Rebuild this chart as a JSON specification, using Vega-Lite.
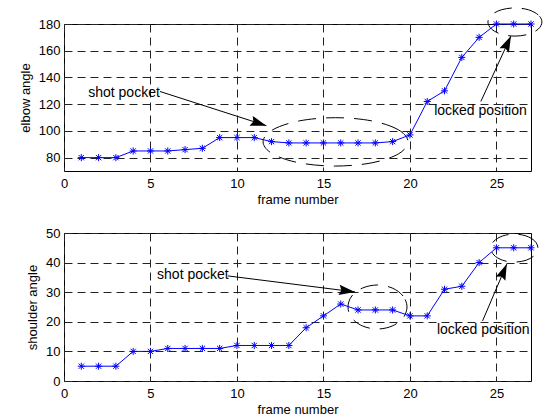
{
  "$schema": "https://vega.github.io/schema/vega-lite/v6.json",
  "background": "white",
  "padding": {"left": 18, "top": 5, "right": 2, "bottom": 0},
  "config": {
    "font": "Liberation Sans",
    "view": {"stroke": "#000", "strokeWidth": 1},
    "axis": {
      "labelFont": "Liberation Sans", "labelFontSize": 13, "labelColor": "#000",
      "titleFont": "Liberation Sans", "titleFontSize": 13, "titleFontWeight": "normal", "titleColor": "#000",
      "ticks": false, "domain": false, "labelOverlap": false,
      "grid": true, "gridColor": "#222", "gridDash": [8, 5], "gridWidth": 1
    },
    "axisX": {"labelPadding": 6, "titlePadding": 3, "labelFlush": false, "tickCount": 6},
    "axisY": {"labelPadding": 4, "titlePadding": 6, "tickCount": 6}
  },
  "datasets": {
    "elbow": [
      {"frame": 1, "angle": 80}, {"frame": 2, "angle": 80}, {"frame": 3, "angle": 80},
      {"frame": 4, "angle": 85}, {"frame": 5, "angle": 85}, {"frame": 6, "angle": 85},
      {"frame": 7, "angle": 86}, {"frame": 8, "angle": 87}, {"frame": 9, "angle": 95},
      {"frame": 10, "angle": 95}, {"frame": 11, "angle": 95}, {"frame": 12, "angle": 92},
      {"frame": 13, "angle": 91}, {"frame": 14, "angle": 91}, {"frame": 15, "angle": 91},
      {"frame": 16, "angle": 91}, {"frame": 17, "angle": 91}, {"frame": 18, "angle": 91},
      {"frame": 19, "angle": 92}, {"frame": 20, "angle": 97}, {"frame": 21, "angle": 122},
      {"frame": 22, "angle": 130}, {"frame": 23, "angle": 155}, {"frame": 24, "angle": 170},
      {"frame": 25, "angle": 180}, {"frame": 26, "angle": 180}, {"frame": 27, "angle": 180}
    ],
    "shoulder": [
      {"frame": 1, "angle": 5}, {"frame": 2, "angle": 5}, {"frame": 3, "angle": 5},
      {"frame": 4, "angle": 10}, {"frame": 5, "angle": 10}, {"frame": 6, "angle": 11},
      {"frame": 7, "angle": 11}, {"frame": 8, "angle": 11}, {"frame": 9, "angle": 11},
      {"frame": 10, "angle": 12}, {"frame": 11, "angle": 12}, {"frame": 12, "angle": 12},
      {"frame": 13, "angle": 12}, {"frame": 14, "angle": 18}, {"frame": 15, "angle": 22},
      {"frame": 16, "angle": 26}, {"frame": 17, "angle": 24}, {"frame": 18, "angle": 24},
      {"frame": 19, "angle": 24}, {"frame": 20, "angle": 22}, {"frame": 21, "angle": 22},
      {"frame": 22, "angle": 31}, {"frame": 23, "angle": 32}, {"frame": 24, "angle": 40},
      {"frame": 25, "angle": 45}, {"frame": 26, "angle": 45}, {"frame": 27, "angle": 45}
    ],
    "ellTop": [
      {"e": "pocket", "i": 0, "x": 19.89, "y": 91.8}, {"e": "pocket", "i": 1, "x": 19.33, "y": 100.85},
      {"e": "pocket", "i": 2, "x": 17.80, "y": 107.48}, {"e": "pocket", "i": 3, "x": 15.7, "y": 109.9},
      {"e": "pocket", "i": 4, "x": 13.60, "y": 107.48}, {"e": "pocket", "i": 5, "x": 12.07, "y": 100.85},
      {"e": "pocket", "i": 6, "x": 11.51, "y": 91.8}, {"e": "pocket", "i": 7, "x": 12.07, "y": 82.75},
      {"e": "pocket", "i": 8, "x": 13.60, "y": 76.12}, {"e": "pocket", "i": 9, "x": 15.7, "y": 73.7},
      {"e": "pocket", "i": 10, "x": 17.80, "y": 76.12}, {"e": "pocket", "i": 11, "x": 19.33, "y": 82.75},
      {"e": "locked", "i": 0, "x": 27.63, "y": 181.5}, {"e": "locked", "i": 1, "x": 27.42, "y": 186.78},
      {"e": "locked", "i": 2, "x": 26.85, "y": 190.64}, {"e": "locked", "i": 3, "x": 26.07, "y": 192.05},
      {"e": "locked", "i": 4, "x": 25.29, "y": 190.64}, {"e": "locked", "i": 5, "x": 24.72, "y": 186.78},
      {"e": "locked", "i": 6, "x": 24.51, "y": 181.5}, {"e": "locked", "i": 7, "x": 24.72, "y": 176.22},
      {"e": "locked", "i": 8, "x": 25.29, "y": 172.36}, {"e": "locked", "i": 9, "x": 26.07, "y": 170.95},
      {"e": "locked", "i": 10, "x": 26.85, "y": 172.36}, {"e": "locked", "i": 11, "x": 27.42, "y": 176.22}
    ],
    "ellBot": [
      {"e": "pocket", "i": 0, "x": 19.83, "y": 25.0}, {"e": "pocket", "i": 1, "x": 19.60, "y": 28.72},
      {"e": "pocket", "i": 2, "x": 18.97, "y": 31.43}, {"e": "pocket", "i": 3, "x": 18.12, "y": 32.43},
      {"e": "pocket", "i": 4, "x": 17.27, "y": 31.43}, {"e": "pocket", "i": 5, "x": 16.64, "y": 28.72},
      {"e": "pocket", "i": 6, "x": 16.42, "y": 25.0}, {"e": "pocket", "i": 7, "x": 16.64, "y": 21.28},
      {"e": "pocket", "i": 8, "x": 17.27, "y": 18.57}, {"e": "pocket", "i": 9, "x": 18.12, "y": 17.57},
      {"e": "pocket", "i": 10, "x": 18.97, "y": 18.57}, {"e": "pocket", "i": 11, "x": 19.60, "y": 21.28},
      {"e": "locked", "i": 0, "x": 27.40, "y": 44.9}, {"e": "locked", "i": 1, "x": 27.22, "y": 47.27},
      {"e": "locked", "i": 2, "x": 26.72, "y": 49.0}, {"e": "locked", "i": 3, "x": 26.04, "y": 49.63},
      {"e": "locked", "i": 4, "x": 25.36, "y": 49.0}, {"e": "locked", "i": 5, "x": 24.86, "y": 47.27},
      {"e": "locked", "i": 6, "x": 24.68, "y": 44.9}, {"e": "locked", "i": 7, "x": 24.86, "y": 42.54},
      {"e": "locked", "i": 8, "x": 25.36, "y": 40.8}, {"e": "locked", "i": 9, "x": 26.04, "y": 40.17},
      {"e": "locked", "i": 10, "x": 26.72, "y": 40.8}, {"e": "locked", "i": 11, "x": 27.22, "y": 42.54}
    ],
    "arrTop": [
      {"a": "pocket", "x": 5.55, "y": 129.5, "x2": 11.7, "y2": 103.9},
      {"a": "locked", "x": 24.1, "y": 122, "x2": 25.84, "y2": 171}
    ],
    "arrBot": [
      {"a": "pocket", "x": 9.48, "y": 35.5, "x2": 16.82, "y2": 30.1},
      {"a": "locked", "x": 24.2, "y": 20.3, "x2": 25.6, "y2": 39.5}
    ],
    "txtTop": [
      {"label": "shot pocket", "x": 1.4, "y": 128},
      {"label": "locked position", "x": 21.4, "y": 115.2}
    ],
    "txtBot": [
      {"label": "shot pocket", "x": 5.38, "y": 35.7},
      {"label": "locked position", "x": 21.56, "y": 17.2}
    ],
    "boxTop": [
      {"x": 21.3, "x2": 26.75, "y": 110, "y2": 119.4}
    ]
  },
  "vconcat": [
    {
      "width": 467,
      "height": 147,
      "encoding": {
        "x": {"type": "quantitative", "scale": {"domain": [0, 27]}, "axis": {"title": "frame number", "values": [0, 5, 10, 15, 20, 25]}},
        "y": {"type": "quantitative", "scale": {"domain": [70, 180]}, "axis": {"title": "elbow angle", "values": [80, 100, 120, 140, 160, 180]}}
      },
      "layer": [
        {
          "data": {"name": "boxTop"},
          "mark": {"type": "rect", "color": "white"},
          "encoding": {
            "x": {"field": "x", "type": "quantitative", "title": "frame number"},
            "x2": {"field": "x2"},
            "y": {"field": "y", "type": "quantitative", "title": "elbow angle"},
            "y2": {"field": "y2"}
          }
        },
        {
          "data": {"name": "ellTop"},
          "mark": {"type": "line", "interpolate": "cardinal-closed", "color": "#000", "strokeWidth": 1, "strokeDash": [18, 10], "clip": false},
          "encoding": {
            "x": {"field": "x", "type": "quantitative", "title": "frame number"},
            "y": {"field": "y", "type": "quantitative", "title": "elbow angle"},
            "detail": {"field": "e"},
            "order": {"field": "i", "type": "quantitative"}
          }
        },
        {
          "data": {"name": "arrTop"},
          "mark": {"type": "rule", "color": "#000", "strokeWidth": 1},
          "encoding": {
            "x": {"field": "x", "type": "quantitative", "title": "frame number"},
            "y": {"field": "y", "type": "quantitative", "title": "elbow angle"},
            "x2": {"field": "x2"},
            "y2": {"field": "y2"}
          }
        },
        {
          "data": {"name": "arrTop"},
          "transform": [{"filter": "datum.a === 'pocket'"}],
          "mark": {"type": "point", "shape": "M0,0L-2,-0.65L-1.7,0L-2,0.65Z", "size": 256, "filled": true, "color": "#000", "opacity": 1, "angle": 17.6},
          "encoding": {
            "x": {"field": "x2", "type": "quantitative", "title": "frame number"},
            "y": {"field": "y2", "type": "quantitative", "title": "elbow angle"}
          }
        },
        {
          "data": {"name": "arrTop"},
          "transform": [{"filter": "datum.a === 'locked'"}],
          "mark": {"type": "point", "shape": "M0,0L-2,-0.65L-1.7,0L-2,0.65Z", "size": 256, "filled": true, "color": "#000", "opacity": 1, "angle": 294.8},
          "encoding": {
            "x": {"field": "x2", "type": "quantitative", "title": "frame number"},
            "y": {"field": "y2", "type": "quantitative", "title": "elbow angle"}
          }
        },
        {
          "data": {"name": "txtTop"},
          "mark": {"type": "text", "align": "left", "baseline": "middle", "fontSize": 14, "color": "#000"},
          "encoding": {
            "x": {"field": "x", "type": "quantitative", "title": "frame number"},
            "y": {"field": "y", "type": "quantitative", "title": "elbow angle"},
            "text": {"field": "label"}
          }
        },
        {
          "data": {"name": "elbow"},
          "mark": {"type": "line", "color": "#0000ff", "strokeWidth": 1},
          "encoding": {
            "x": {"field": "frame", "type": "quantitative", "title": "frame number"},
            "y": {"field": "angle", "type": "quantitative", "title": "elbow angle"}
          }
        },
        {
          "data": {"name": "elbow"},
          "mark": {"type": "point", "shape": "M0,-1L0,1M-1,0L1,0M-0.75,-0.75L0.75,0.75M-0.75,0.75L0.75,-0.75", "size": 50, "color": "#0000ff", "strokeWidth": 1, "opacity": 1, "filled": false},
          "encoding": {
            "x": {"field": "frame", "type": "quantitative", "title": "frame number"},
            "y": {"field": "angle", "type": "quantitative", "title": "elbow angle"}
          }
        }
      ]
    },
    {
      "width": 467,
      "height": 148,
      "encoding": {
        "x": {"type": "quantitative", "scale": {"domain": [0, 27]}, "axis": {"title": "frame number", "values": [0, 5, 10, 15, 20, 25]}},
        "y": {"type": "quantitative", "scale": {"domain": [0, 50]}, "axis": {"title": "shoulder angle", "values": [0, 10, 20, 30, 40, 50]}}
      },
      "layer": [
        {
          "data": {"name": "ellBot"},
          "mark": {"type": "line", "interpolate": "cardinal-closed", "color": "#000", "strokeWidth": 1, "strokeDash": [18, 10], "clip": false},
          "encoding": {
            "x": {"field": "x", "type": "quantitative", "title": "frame number"},
            "y": {"field": "y", "type": "quantitative", "title": "shoulder angle"},
            "detail": {"field": "e"},
            "order": {"field": "i", "type": "quantitative"}
          }
        },
        {
          "data": {"name": "arrBot"},
          "mark": {"type": "rule", "color": "#000", "strokeWidth": 1},
          "encoding": {
            "x": {"field": "x", "type": "quantitative", "title": "frame number"},
            "y": {"field": "y", "type": "quantitative", "title": "shoulder angle"},
            "x2": {"field": "x2"},
            "y2": {"field": "y2"}
          }
        },
        {
          "data": {"name": "arrBot"},
          "transform": [{"filter": "datum.a === 'pocket'"}],
          "mark": {"type": "point", "shape": "M0,0L-2,-0.65L-1.7,0L-2,0.65Z", "size": 256, "filled": true, "color": "#000", "opacity": 1, "angle": 7.2},
          "encoding": {
            "x": {"field": "x2", "type": "quantitative", "title": "frame number"},
            "y": {"field": "y2", "type": "quantitative", "title": "shoulder angle"}
          }
        },
        {
          "data": {"name": "arrBot"},
          "transform": [{"filter": "datum.a === 'locked'"}],
          "mark": {"type": "point", "shape": "M0,0L-2,-0.65L-1.7,0L-2,0.65Z", "size": 256, "filled": true, "color": "#000", "opacity": 1, "angle": 292.8},
          "encoding": {
            "x": {"field": "x2", "type": "quantitative", "title": "frame number"},
            "y": {"field": "y2", "type": "quantitative", "title": "shoulder angle"}
          }
        },
        {
          "data": {"name": "txtBot"},
          "mark": {"type": "text", "align": "left", "baseline": "middle", "fontSize": 14, "color": "#000"},
          "encoding": {
            "x": {"field": "x", "type": "quantitative", "title": "frame number"},
            "y": {"field": "y", "type": "quantitative", "title": "shoulder angle"},
            "text": {"field": "label"}
          }
        },
        {
          "data": {"name": "shoulder"},
          "mark": {"type": "line", "color": "#0000ff", "strokeWidth": 1},
          "encoding": {
            "x": {"field": "frame", "type": "quantitative", "title": "frame number"},
            "y": {"field": "angle", "type": "quantitative", "title": "shoulder angle"}
          }
        },
        {
          "data": {"name": "shoulder"},
          "mark": {"type": "point", "shape": "M0,-1L0,1M-1,0L1,0M-0.75,-0.75L0.75,0.75M-0.75,0.75L0.75,-0.75", "size": 50, "color": "#0000ff", "strokeWidth": 1, "opacity": 1, "filled": false},
          "encoding": {
            "x": {"field": "frame", "type": "quantitative", "title": "frame number"},
            "y": {"field": "angle", "type": "quantitative", "title": "shoulder angle"}
          }
        }
      ]
    }
  ],
  "bounds": "flush",
  "spacing": 62
}
